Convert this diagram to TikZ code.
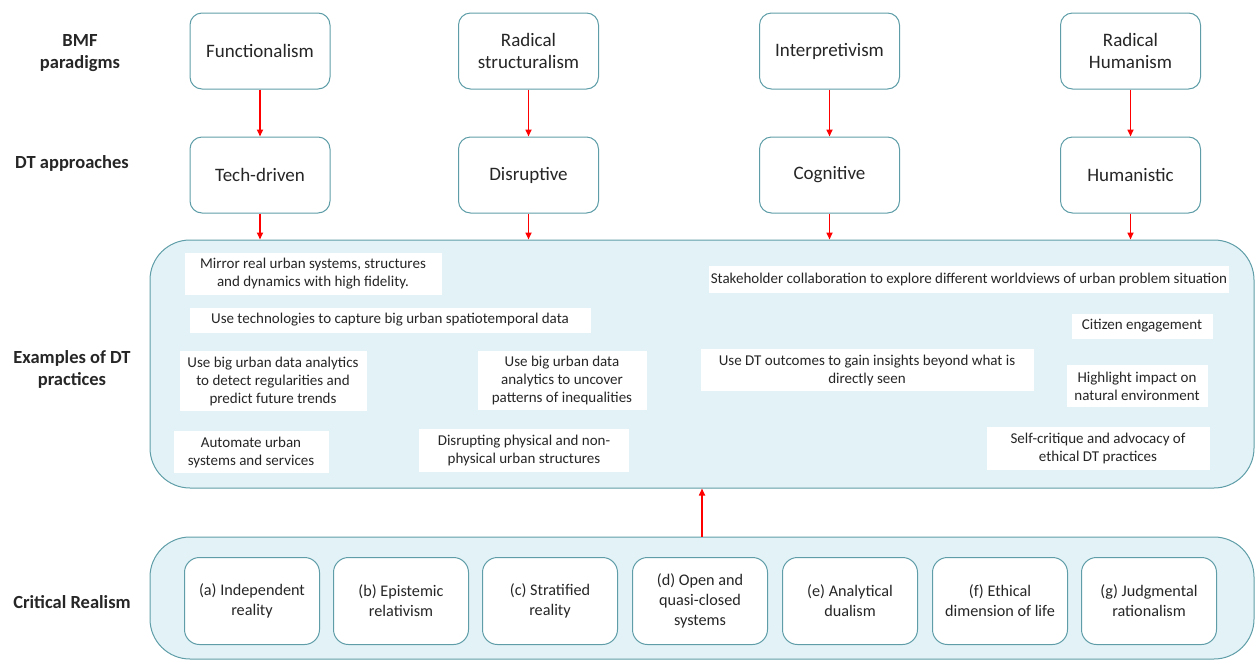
\documentclass[tikz,border=0pt]{standalone}
\usepackage{fontspec}
\setmainfont{Carlito}
\usepackage{xcolor}
\usetikzlibrary{positioning,arrows.meta}
\definecolor{boxline}{HTML}{5F9EA8}
\definecolor{panelfill}{HTML}{E3F2F6}
\definecolor{txt}{HTML}{262626}

\begin{document}
\begin{tikzpicture}[x=1pt, y=-1pt,
    every node/.style={text=txt},
    lvl/.style={draw=boxline, line width=1pt, fill=white, rounded corners=12pt,
      minimum width=140pt, minimum height=76pt, align=center,
      font=\fontsize{19}{22}\selectfont},
    rowlabel/.style={align=center, font=\fontsize{18.5}{22}\selectfont\bfseries},
    panel/.style={draw=boxline, line width=1pt, fill=panelfill, rounded corners=40pt},
    practice/.style={fill=white, align=center, inner sep=0pt,
      font=\fontsize{15}{18}\selectfont},
    crbox/.style={draw=boxline, line width=1pt, fill=white, rounded corners=15pt,
      minimum width=135pt, minimum height=87pt, align=center,
      font=\fontsize{16.2}{20}\selectfont},
    link/.style={-{Triangle[length=7pt,width=6pt]}, red, line width=1.6pt}
  ]
  \useasboundingbox (0,0) rectangle (1256,662);

  % row labels
  \node[rowlabel] (lblbmf) at (80,53) {BMF\\paradigms};
  \node[rowlabel] (lbldt) at (72,163) {DT approaches};
  \node[rowlabel] (lblex) at (72,369) {Examples of DT\\practices};
  \node[rowlabel] (lblcr) at (72,602) {Critical Realism};

  % panels
  \node[panel, minimum width=1104pt, minimum height=248pt] (practices) at (702,364) {};
  \node[panel, minimum width=1104pt, minimum height=122pt] (realism) at (702,598) {};

  % paradigms and approaches
  \foreach \i/\x/\para/\appr in {1/260/Functionalism/Tech-driven,
      2/528.5/{Radical\\structuralism}/Disruptive,
      3/829.5/Interpretivism/Cognitive,
      4/1130.5/{Radical\\Humanism}/Humanistic}{
    \node[lvl] (bmf\i) at (\x,51) {\para};
    \node[lvl] (dt\i) at (\x,175) {\appr};
    \draw[link] (bmf\i.south) -- (dt\i.north);
    \draw[link] (dt\i.south) -- (dt\i.south |- practices.north);
  }

  % examples of DT practices
  \node[practice, minimum width=257pt, minimum height=42pt] (mirror) at (313,274)
    {Mirror real urban systems, structures\\and dynamics with high fidelity.};
  \node[practice, minimum width=401pt, minimum height=25pt] (capture) at (390,320)
    {Use technologies to capture big urban spatiotemporal data};
  \node[practice, minimum width=187pt, minimum height=60pt] (detect) at (273,381)
    {Use big urban data analytics\\to detect regularities and\\predict future trends};
  \node[practice, minimum width=155pt, minimum height=42pt] (automate) at (251,452)
    {Automate urban\\systems and services};
  \node[practice, minimum width=169pt, minimum height=59pt] (uncover) at (562,380)
    {Use big urban data\\analytics to uncover\\patterns of inequalities};
  \node[practice, minimum width=210pt, minimum height=43pt] (disrupt) at (524,450)
    {Disrupting physical and non-\\physical urban structures};
  \node[practice, minimum width=520pt, minimum height=27pt] (stake) at (969,279)
    {Stakeholder collaboration to explore different worldviews of urban problem situation};
  \node[practice, minimum width=141pt, minimum height=25pt] (citizen) at (1142,326)
    {Citizen engagement};
  \node[practice, minimum width=333pt, minimum height=42pt] (insight) at (867,370)
    {Use DT outcomes to gain insights beyond what is\\directly seen};
  \node[practice, minimum width=141pt, minimum height=42pt] (nature) at (1137,386)
    {Highlight impact on\\natural environment};
  \node[practice, minimum width=223pt, minimum height=43pt] (critique) at (1098,448)
    {Self-critique and advocacy of\\ethical DT practices};

  % critical realism
  \foreach \j/\x/\txt in {a/252/{(a) Independent\\reality},
      b/401/{(b) Epistemic\\relativism},
      c/550/{(c) Stratified\\reality},
      d/700/{(d) Open and\\quasi-closed\\systems},
      e/850/{(e) Analytical\\dualism},
      f/1000/{(f) Ethical\\dimension of life},
      g/1149/{(g) Judgmental\\rationalism}}{
    \node[crbox] (cr\j) at (\x,601) {\txt};
  }

  \draw[link] (realism.north) -- (practices.south);
\end{tikzpicture}
\end{document}
